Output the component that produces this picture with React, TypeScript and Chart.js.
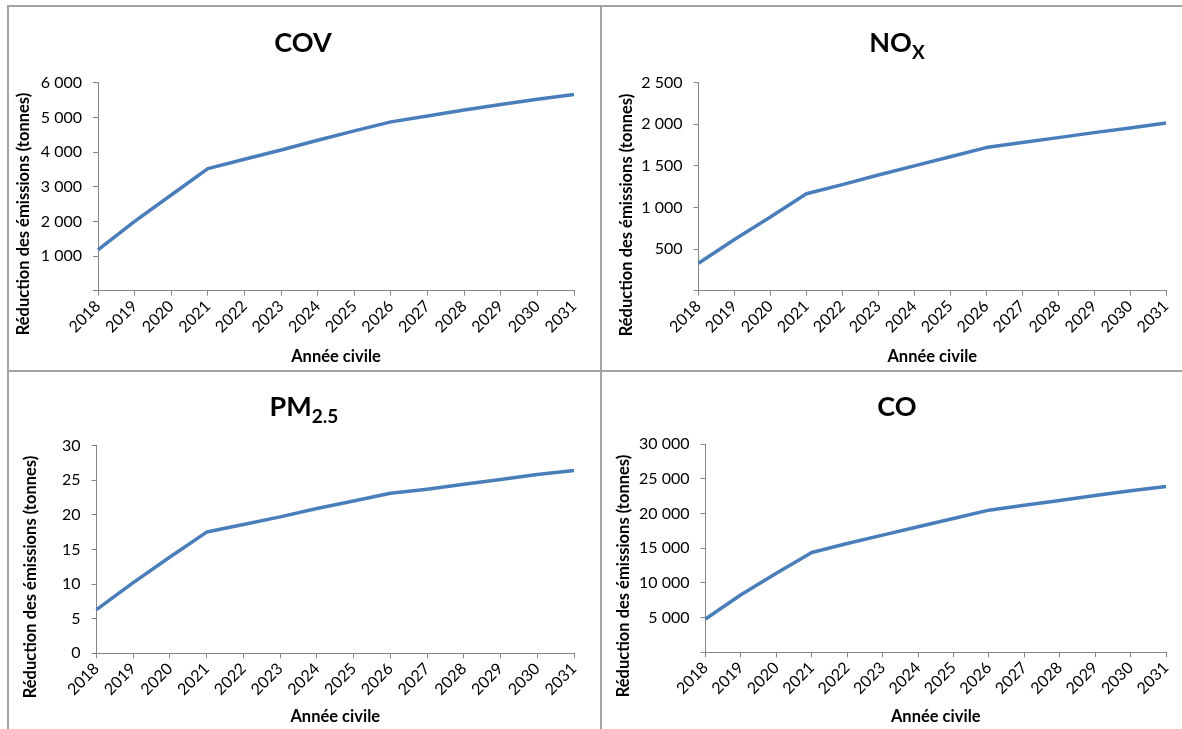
import React, { useEffect, useRef } from 'react';
import { Chart, registerables } from 'chart.js';

Chart.register(...registerables);

const FONT = "Lato, 'Open Sans', sans-serif";

// ---- data ----
const years = ['2018', '2019', '2020', '2021', '2022', '2023', '2024', '2025', '2026', '2027', '2028', '2029', '2030', '2031'];
const covValues = [1180, 2000, 2760, 3520, 3790, 4060, 4340, 4610, 4870, 5040, 5210, 5370, 5520, 5660];
const noxValues = [330, 615, 885, 1165, 1275, 1390, 1500, 1610, 1720, 1780, 1840, 1900, 1955, 2015];
const pmValues = [6.3, 10.2, 13.9, 17.5, 18.6, 19.7, 20.9, 22.0, 23.1, 23.7, 24.4, 25.1, 25.8, 26.4];
const coValues = [4800, 8300, 11400, 14400, 15700, 16900, 18100, 19300, 20500, 21200, 21900, 22600, 23300, 23900];

const covTicks = [0, 6000, 1000];
const noxTicks = [0, 2500, 500];
const pmTicks = [0, 30, 5];
const coTicks = [0, 30000, 5000];

const yAxisTitle = 'Réduction des émissions (tonnes)';
const xAxisTitle = 'Année civile';

const LINE_COLOR = '#4A7EBB';
const AXIS_COLOR = '#868686';
const BORDER_COLOR = '#a3a3a3';

function fmtThousands(v: number): string {
  const s = String(Math.round(v));
  return s.replace(/\B(?=(\d{3})+(?!\d))/g, ' ');
}

const panelTextPlugin = {
  id: 'panelText',
  afterDraw(chart: any, _args: any, opts: any) {
    const ctx = chart.ctx as CanvasRenderingContext2D;
    ctx.save();
    ctx.fillStyle = '#000';
    const mainFont = `bold ${opts.titleSize}px ${FONT}`;
    const subFont = `bold ${opts.subSize}px ${FONT}`;
    ctx.font = mainFont;
    const w1 = ctx.measureText(opts.title).width;
    ctx.font = subFont;
    const w2 = opts.sub ? ctx.measureText(opts.sub).width : 0;
    const x0 = opts.titleX - (w1 + w2) / 2;
    ctx.textAlign = 'left';
    ctx.textBaseline = 'alphabetic';
    ctx.font = mainFont;
    ctx.fillText(opts.title, x0, opts.titleBaseline);
    if (opts.sub) {
      ctx.font = subFont;
      ctx.fillText(opts.sub, x0 + w1, opts.titleBaseline + opts.subDrop);
    }
    ctx.translate(opts.yTitleX, opts.yTitleY);
    ctx.rotate(-Math.PI / 2);
    ctx.font = `bold 16.5px ${FONT}`;
    ctx.textAlign = 'center';
    ctx.textBaseline = 'middle';
    ctx.fillText(opts.yTitle, 0, 0);
    ctx.restore();
  },
};

type PanelProps = {
  left: number;
  top: number;
  width: number;
  height: number;
  values: number[];
  ticks: number[];
  thousands: boolean;
  hideZero: boolean;
  title: string;
  sub: string;
  titleX: number;
  yWidth: number;
  padTop: number;
  padRight: number;
  xHeight: number;
  yTitleX: number;
  yTitleY: number;
};

function Panel(p: PanelProps) {
  const ref = useRef<HTMLCanvasElement | null>(null);
  useEffect(() => {
    if (!ref.current) return;
    const chart = new Chart(ref.current, {
      type: 'line',
      data: {
        labels: years,
        datasets: [
          {
            data: p.values,
            borderColor: LINE_COLOR,
            backgroundColor: LINE_COLOR,
            borderWidth: 3.5,
            pointRadius: 0,
            pointHoverRadius: 0,
            tension: 0,
            fill: false,
            borderCapStyle: 'butt',
            borderJoinStyle: 'round',
          },
        ],
      },
      options: {
        animation: false,
        responsive: false,
        devicePixelRatio: 1,
        layout: { padding: { top: p.padTop, right: p.padRight, left: 0, bottom: 0 } },
        plugins: {
          legend: { display: false },
          tooltip: { enabled: false },
          title: { display: false },
          panelText: {
            title: p.title,
            sub: p.sub,
            titleX: p.titleX,
            titleBaseline: 44,
            titleSize: 27,
            subSize: 19,
            subDrop: 7,
            yTitle: yAxisTitle,
            yTitleX: p.yTitleX,
            yTitleY: p.yTitleY,
          },
        } as any,
        scales: {
          x: {
            type: 'category',
            offset: false,
            grid: {
              display: true,
              drawOnChartArea: false,
              drawTicks: true,
              tickLength: 5,
              color: AXIS_COLOR,
            },
            border: { display: true, color: AXIS_COLOR, width: 1 },
            ticks: {
              autoSkip: false,
              minRotation: 45,
              maxRotation: 45,
              padding: 1,
              color: '#000',
              font: { family: FONT, size: 16 },
            },
            title: {
              display: true,
              text: xAxisTitle,
              color: '#000',
              font: { family: FONT, size: 16.5, weight: 'bold' },
              padding: { top: 0, bottom: 2 },
            },
            afterFit: (scale: any) => {
              scale.height = p.xHeight;
            },
          },
          y: {
            type: 'linear',
            min: p.ticks[0],
            max: p.ticks[1],
            grid: {
              display: true,
              drawOnChartArea: false,
              drawTicks: true,
              tickLength: 5,
              color: AXIS_COLOR,
            },
            border: { display: true, color: AXIS_COLOR, width: 1 },
            ticks: {
              stepSize: p.ticks[2],
              padding: 11,
              color: '#000',
              font: { family: FONT, size: 16 },
              callback: (v: any) => {
                const n = Number(v);
                if (n === 0 && p.hideZero) return '';
                return p.thousands ? fmtThousands(n) : String(n);
              },
            },
            title: { display: false },
            afterFit: (scale: any) => {
              scale.width = p.yWidth;
            },
          },
        },
      } as any,
      plugins: [panelTextPlugin as any],
    });
    return () => chart.destroy();
  }, []);
  return (
    <canvas
      ref={ref}
      width={p.width}
      height={p.height}
      style={{ position: 'absolute', left: p.left, top: p.top, width: p.width, height: p.height }}
    />
  );
}

function Line(props: { left: number; top: number; width: number; height: number }) {
  return (
    <div
      style={{
        position: 'absolute',
        left: props.left,
        top: props.top,
        width: props.width,
        height: props.height,
        background: BORDER_COLOR,
      }}
    />
  );
}

export default function App() {
  return (
    <div
      style={{
        position: 'absolute',
        left: 0,
        top: 0,
        width: 1182,
        height: 729,
        overflow: 'hidden',
        background: '#fff',
      }}
    >
      <Line left={7} top={5} width={1175} height={2} />
      <Line left={7} top={370} width={1175} height={2} />
      <Line left={7} top={5} width={2} height={724} />
      <Line left={600} top={5} width={2} height={724} />

      <Panel
        left={9}
        top={8}
        width={590}
        height={361}
        values={covValues}
        ticks={covTicks}
        thousands={true}
        hideZero={true}
        title="COV"
        sub=""
        titleX={294}
        yWidth={89}
        padTop={74.7}
        padRight={25}
        xHeight={78.3}
        yTitleX={15}
        yTitleY={206}
      />
      <Panel
        left={602}
        top={8}
        width={580}
        height={361}
        values={noxValues}
        ticks={noxTicks}
        thousands={true}
        hideZero={true}
        title="NO"
        sub="X"
        titleX={295}
        yWidth={96.5}
        padTop={74.7}
        padRight={16}
        xHeight={78.3}
        yTitleX={25}
        yTitleY={207}
      />
      <Panel
        left={9}
        top={372}
        width={590}
        height={357}
        values={pmValues}
        ticks={pmTicks}
        thousands={false}
        hideZero={false}
        title="PM"
        sub="2.5"
        titleX={295}
        yWidth={87.5}
        padTop={73.5}
        padRight={25}
        xHeight={75.7}
        yTitleX={22}
        yTitleY={205}
      />
      <Panel
        left={602}
        top={372}
        width={580}
        height={357}
        values={coValues}
        ticks={coTicks}
        thousands={true}
        hideZero={true}
        title="CO"
        sub=""
        titleX={295}
        yWidth={103.5}
        padTop={72.3}
        padRight={16}
        xHeight={76.7}
        yTitleX={22}
        yTitleY={204}
      />
    </div>
  );
}
